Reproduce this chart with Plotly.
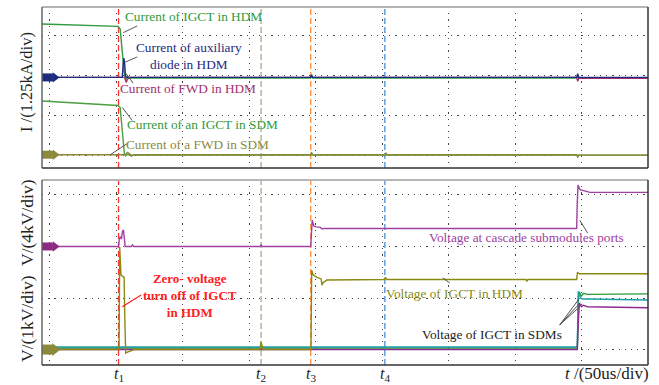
import plotly.graph_objects as go

# ---------------- data (time in us, values in scope divisions) ----------------
# Top panel: currents (1.25 kA/div)
t_igct_hdm = [-5.7, 51.5, 53.0, 54.0, 55.0, 56.0, 57.0, 58.5, 60.0, 196.0, 196.8, 197.6, 396.0, 396.8, 397.6, 449.6]
i_igct_hdm = [1.30, 1.24, 1.18, 0.80, 0.40, 0.10, -0.10, -0.02, -0.06, -0.06, 0.0, -0.06, -0.06, 0.0, -0.06, -0.06]

t_aux = [-5.7, 54.6, 55.2, 55.8, 56.4, 57.0, 58.0, 196.0, 196.8, 197.6, 396.0, 396.8, 397.6, 449.6]
i_aux = [-0.045, -0.045, 0.25, 0.44, 0.30, 0.0, -0.045, -0.045, 0.02, -0.045, -0.045, 0.05, -0.045, -0.045]

t_fwd_hdm = [-5.7, 56.5, 57.5, 58.5, 60.0, 396.0, 396.8, 397.6, 449.6]
i_fwd_hdm = [-0.045, -0.045, -0.17, -0.09, -0.045, -0.045, -0.14, -0.07, -0.07]

t_igct_sdm = [-5.7, 51.5, 53.0, 54.2, 55.2, 56.2, 57.2, 58.5, 61.0, 449.6]
i_igct_sdm = [-0.64, -0.75, -0.80, -1.30, -1.75, -1.96, -2.02, -1.98, -2.0, -2.0]

t_fwd_sdm = [-5.7, 57.0, 58.5, 60.0, 61.5, 63.0, 196.0, 196.8, 197.6, 251.9, 252.7, 253.5, 396.0, 396.8, 397.6, 449.6]
i_fwd_sdm = [-1.99, -1.99, -1.93, -1.96, -2.03, -1.99, -1.99, -1.93, -1.99, -1.99, -1.94, -1.99, -1.99, -2.06, -2.0, -2.0]

# Bottom panel: voltages
t_port = [-5.7, 51.8, 52.4, 53.2, 54.0, 54.8, 55.5, 56.2, 56.8, 61.5, 62.3, 63.2, 158.2, 158.9, 159.7,
          196.2, 196.7, 197.3, 198.5, 200.5, 203.5, 204.7, 206.0, 396.0, 396.4, 397.0, 398.5, 402.1, 406.0, 449.6]
v_port = [2.0, 2.0, 2.15, 2.19, 2.14, 2.30, 2.32, 2.2, 2.0, 2.0, 2.03, 2.0, 2.0, 2.03, 2.0,
          2.0, 2.3, 2.51, 2.40, 2.38, 2.37, 2.34, 2.35, 2.35, 2.8, 3.19, 3.10, 3.08, 3.05, 3.05]

t_hdm_v = [-5.7, 52.2, 52.7, 53.6, 54.5, 56.0, 56.6, 57.2, 58.5, 61.0, 63.5, 158.0, 158.9, 159.6, 160.5,
           196.4, 196.9, 198.0, 201.0, 204.0, 204.7, 205.5, 208.4, 251.5, 252.3, 253.2, 358.0, 358.6, 359.4,
           396.0, 396.6, 398.0, 449.6]
v_hdm_v = [0.0, 0.0, 1.99, 1.45, 1.43, 1.40, 0.5, -0.07, -0.05, -0.03, 0.0, 0.0, 0.15, 0.08, 0.0,
           0.0, 1.54, 1.45, 1.40, 1.37, 1.25, 1.30, 1.35, 1.36, 1.40, 1.36, 1.36, 1.32, 1.36,
           1.36, 1.50, 1.47, 1.47]

t_sdm = [-5.7, 396.5, 397.2, 398.0, 399.5, 401.0, 404.0, 449.6]
v_sdm_green = [0.03, 0.03, 1.0, 1.12, 1.03, 1.09, 1.07, 1.08]
v_sdm_teal = [0.05, 0.05, 1.13, 1.04, 0.99, 0.98, 0.98, 0.96]
v_sdm_purple = [0.0, 0.0, 0.5, 0.90, 0.83, 0.86, 0.83, 0.81]

# time markers
t_marks = [51.8, 158.9, 196.2, 251.9]
t_mark_labels = ["1", "2", "3", "4"]
t_mark_colors = ["#ff3030", "#9fae86", "#ff8c3a", "#4a8ed6"]

# channel reference markers (x extent, level)
ch_x = [-5.7, 2.5]
ch_top = [(-0.045, "#1c2a80"), (-1.99, "#8c8a3a")]
ch_bot = [(2.0, "#8e2a82"), (0.0, "#8c8a3a")]

FONT = "Liberation Serif"
C_GREEN = "#2f9a40"
C_NAVY = "#1c2a80"
C_MAG = "#a0306e"
C_OLIVE = "#8c8a3a"
C_PURPLE = "#a040a0"
C_OLIVE2 = "#8a8a12"
C_TEAL = "#1aa0a8"
C_PURPLE2 = "#8e2a8e"

fig = go.Figure()

def line(x, y, color, axis, width=1.4):
    fig.add_trace(go.Scatter(x=x, y=y, mode="lines", line=dict(color=color, width=width),
                             xaxis="x" if axis == 1 else "x2", yaxis="y" if axis == 1 else "y2",
                             showlegend=False, hoverinfo="skip"))

# top traces
line(t_igct_hdm, i_igct_hdm, C_GREEN, 1)
line(t_igct_sdm, i_igct_sdm, "#4aa040", 1)
line(t_fwd_sdm, i_fwd_sdm, C_OLIVE, 1)
line(t_fwd_hdm, i_fwd_hdm, C_MAG, 1)
line(t_aux, i_aux, C_NAVY, 1)
# bottom traces
line(t_sdm, v_sdm_green, "#2a9a3a", 2)
line(t_sdm, v_sdm_teal, C_TEAL, 2)
line(t_sdm, v_sdm_purple, C_PURPLE2, 2)
line(t_hdm_v, v_hdm_v, C_OLIVE2, 2)
line(t_port, v_port, C_PURPLE, 2)

# channel markers
for lvl, col in ch_top:
    fig.add_trace(go.Scatter(x=ch_x, y=[lvl, lvl], mode="lines", line=dict(color=col, width=8),
                             xaxis="x", yaxis="y", showlegend=False, hoverinfo="skip"))
    fig.add_trace(go.Scatter(x=[ch_x[1] + 1.6], y=[lvl], mode="markers",
                             marker=dict(symbol="triangle-right", size=9, color=col),
                             xaxis="x", yaxis="y", showlegend=False, hoverinfo="skip"))
for lvl, col in ch_bot:
    fig.add_trace(go.Scatter(x=ch_x, y=[lvl, lvl], mode="lines", line=dict(color=col, width=8 if lvl else 10),
                             xaxis="x2", yaxis="y2", showlegend=False, hoverinfo="skip"))
    fig.add_trace(go.Scatter(x=[ch_x[1] + 1.6], y=[lvl], mode="markers",
                             marker=dict(symbol="triangle-right", size=9 if lvl else 11, color=col),
                             xaxis="x2", yaxis="y2", showlegend=False, hoverinfo="skip"))

shapes = []
# time marker lines
for tm, col in zip(t_marks, t_mark_colors):
    for xr, yr in (("x", "y domain"), ("x2", "y2 domain")):
        shapes.append(dict(type="line", xref=xr, yref=yr, x0=tm, x1=tm, y0=0, y1=1,
                           line=dict(color=col, width=1.3, dash="6px,3px"), layer="below"))
# frames
for xr, yr in (("x domain", "y domain"), ("x2 domain", "y2 domain")):
    shapes.append(dict(type="line", xref=xr, yref=yr, x0=0, x1=1, y0=1, y1=1, line=dict(color="#b5b5b5", width=2)))
    shapes.append(dict(type="line", xref=xr, yref=yr, x0=0, x1=0, y0=0, y1=1, line=dict(color="#666", width=1.5)))
    shapes.append(dict(type="line", xref=xr, yref=yr, x0=1, x1=1, y0=0, y1=1, line=dict(color="#333", width=1.5)))
    shapes.append(dict(type="line", xref=xr, yref=yr, x0=0, x1=1, y0=0, y1=0, line=dict(color="#333", width=1.5)))

# pointer lines
ptr_top = [((65.8, 1.25), (55.3, 1.08)), ((65.8, 0.47), (56.8, 0.34)), ((56.1, 0.11), (62.8, -0.19)),
           ((54.6, -0.80), (62.1, -1.13)), ((45.6, -1.99), (58.3, -1.71))]
for (a, b) in ptr_top:
    shapes.append(dict(type="line", xref="x", yref="y", x0=a[0], y0=a[1], x1=b[0], y1=b[1],
                       line=dict(color="#555", width=1)))
ptr_bot = [((404.3, 2.26), (398.3, 2.51)), ((300.7, 1.29), (295.5, 1.39)),
           ((383.3, 0.48), (398.3, 1.0)), ((383.3, 0.48), (398.8, 0.91)), ((383.3, 0.48), (398.3, 0.83))]
for (a, b) in ptr_bot:
    shapes.append(dict(type="line", xref="x2", yref="y2", x0=a[0], y0=a[1], x1=b[0], y1=b[1],
                       line=dict(color="#555", width=1)))
shapes.append(dict(type="line", xref="x2", yref="y2", x0=68.8, y0=1.06, x1=54.6, y1=0.83,
                   line=dict(color="#ff2020", width=1.2)))

ann = []
def txt(x, y, s, color, axis, size=13.3, bold=False):
    t = f"<b>{s}</b>" if bold else s
    ann.append(dict(x=x, y=y, xref="x" if axis == 1 else "x2", yref="y" if axis == 1 else "y2",
                    text=t, showarrow=False, xanchor="center", yanchor="middle", borderpad=0,
                    font=dict(family=FONT, size=size, color=color)))

txt(107.8, 1.48, "Current of IGCT in HDM", C_GREEN, 1)
txt(104.6, 0.49, "Current of auxiliary<br>diode in HDM", C_NAVY, 1)
txt(104.1, -0.32, "Current of FWD in HDM", C_MAG, 1)
txt(114.6, -1.23, "Current of an IGCT in SDM", C_GREEN, 1)
txt(110.8, -1.73, "Current of a FWD in SDM", C_OLIVE, 1)

txt(105.6, 1.04, "Zero- voltage<br>turn off of IGCT<br>in HDM", "#ff2020", 2, size=13, bold=True)
txt(358.5, 2.17, "Voltage at cascade submodules ports", C_PURPLE, 2)
txt(304.5, 1.08, "Voltage of IGCT in HDM", C_OLIVE2, 2)
txt(332.2, 0.30, "Voltage of IGCT in SDMs", "#222", 2)

# time marker labels
lab_y = (365 - 374) / 358
for tm, lab in zip(t_marks, t_mark_labels):
    ann.append(dict(x=tm, y=lab_y, xref="x2", yref="paper", yanchor="middle", xanchor="center",
                    text=f"<i>t</i><sub>{lab}</sub>", showarrow=False,
                    font=dict(family=FONT, size=16, color="#222")))
ann.append(dict(x=1, y=(365 - 373) / 358, xref="paper", yref="paper", xanchor="right", yanchor="middle", xshift=3,
                text="<i>t</i> /(50us/div)", showarrow=False, font=dict(family=FONT, size=17, color="#222")))
# y titles
for s, ycen, fs in (("I /(1.25kA/div)", 82, 16.5), ("V/(4kV/div)", 223, 17.5), ("V/(1kV/div)", 319, 17.5)):
    ann.append(dict(x=0, y=1 - (ycen - 7) / 358, xref="paper", yref="paper", xanchor="center", yanchor="middle",
                    xshift=-15, text=s, textangle=-90, showarrow=False,
                    font=dict(family=FONT, size=fs, color="#222")))

grid = dict(showgrid=True, gridcolor="#444", gridwidth=1, griddash="1.2px,5px", zeroline=False,
            showticklabels=False, ticks="", showline=False)

fig.update_layout(
    width=659, height=385, margin=dict(l=42, r=11, t=7, b=20),
    paper_bgcolor="white", plot_bgcolor="white", showlegend=False,
    font=dict(family=FONT),
    xaxis=dict(domain=[0, 1], anchor="y", range=[-5.7, 449.6], tick0=0, dtick=50, **grid),
    xaxis2=dict(domain=[0, 1], anchor="y2", range=[-5.7, 449.6], tick0=0, dtick=50, **grid),
    yaxis=dict(domain=[0.5503, 1.0], anchor="x", range=[-2.324, 1.727], tick0=0, dtick=1, **grid),
    yaxis2=dict(domain=[0, 0.5168], anchor="x2", range=[-0.30, 3.29], tick0=0, dtick=1, **grid),
    shapes=shapes, annotations=ann,
)

fig.write_html("out.html")
